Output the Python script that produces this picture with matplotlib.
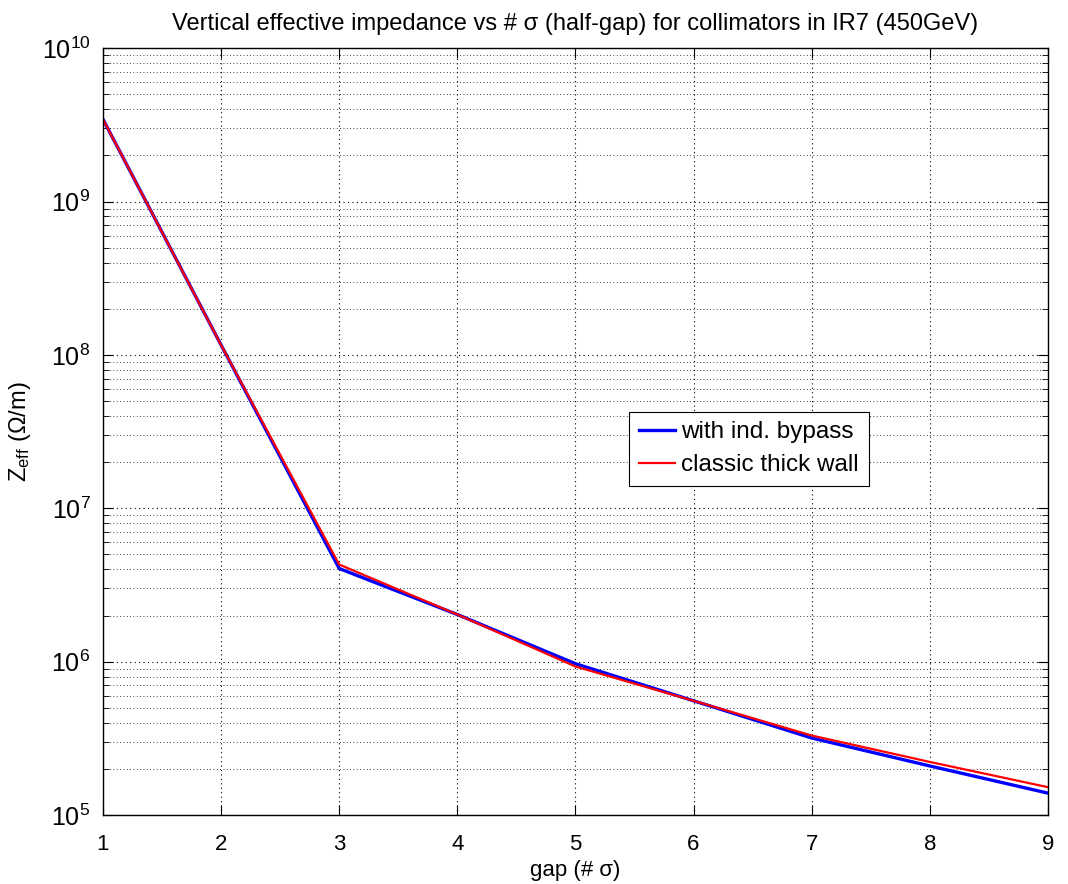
import numpy as np
import matplotlib
matplotlib.use('Agg')
import matplotlib.pyplot as plt
from matplotlib.ticker import LogLocator, NullFormatter

plt.rcParams['font.family'] = ['Liberation Sans', 'DejaVu Sans']
plt.rcParams['mathtext.fontset'] = 'custom'
plt.rcParams['mathtext.rm'] = 'Liberation Sans'
plt.rcParams['mathtext.it'] = 'Liberation Sans'

# === Dane ===
gap_sigma = [1, 2, 3, 4, 5, 6, 7, 8, 9]
z_bypass = [3.44e9, 1.16e8, 4.05e6, 2.03e6, 9.7e5, 5.56e5, 3.18e5, 2.09e5, 1.39e5]
z_thick = [3.44e9, 1.16e8, 4.3e6, 2.03e6, 9.3e5, 5.56e5, 3.3e5, 2.22e5, 1.52e5]
labels = ['with ind. bypass', 'classic thick wall']

fig = plt.figure(figsize=(10.68, 8.84), dpi=100)
ax = fig.add_axes([0.0964, 0.078, 0.8848, 0.8675])

ax.semilogy(gap_sigma, z_bypass, color='#0000ff', lw=2.4, label=labels[0])
ax.semilogy(gap_sigma, z_thick, color='#ff0000', lw=1.6, label=labels[1])

ax.set_xlim(1, 9)
ax.set_ylim(1e5, 1e10)
ax.set_xticks(range(1, 10))
ax.yaxis.set_major_locator(LogLocator(base=10, numticks=10))
ax.yaxis.set_minor_locator(LogLocator(base=10, subs=np.arange(2, 10), numticks=20))
ax.yaxis.set_minor_formatter(NullFormatter())

ax.grid(True, which='major', axis='both', linestyle=(0, (1, 3)), color='black', lw=0.8)
ax.grid(True, which='minor', axis='y', linestyle=(0, (1, 3)), color='black', lw=0.6)

ax.tick_params(which='both', direction='in', top=True, right=True)
ax.tick_params(which='major', length=7)
ax.tick_params(which='minor', length=4)
ax.tick_params(axis='x', labelsize=16, pad=14)
ax.tick_params(axis='y', labelsize=18, pad=9)

ax.set_title('Vertical effective impedance vs # σ (half-gap) for collimators in IR7 (450GeV)',
             fontsize=17, pad=13)
ax.set_xlabel('gap (# σ)', fontsize=16, labelpad=3)
ax.set_ylabel(r'Z$_{\mathrm{eff}}$ (Ω/m)', fontsize=17, labelpad=6)

leg = ax.legend(loc='lower left', bbox_to_anchor=(0.5566, 0.429), borderaxespad=0,
                fontsize=17.5, frameon=True, fancybox=False, edgecolor='black',
                framealpha=1, handlelength=1.5, borderpad=0.4, labelspacing=0.45,
                handletextpad=0.25)
leg.get_frame().set_linewidth(0.8)

for s in ax.spines.values():
    s.set_linewidth(1.0)

plt.savefig('out.png', dpi=100)
plt.close()
